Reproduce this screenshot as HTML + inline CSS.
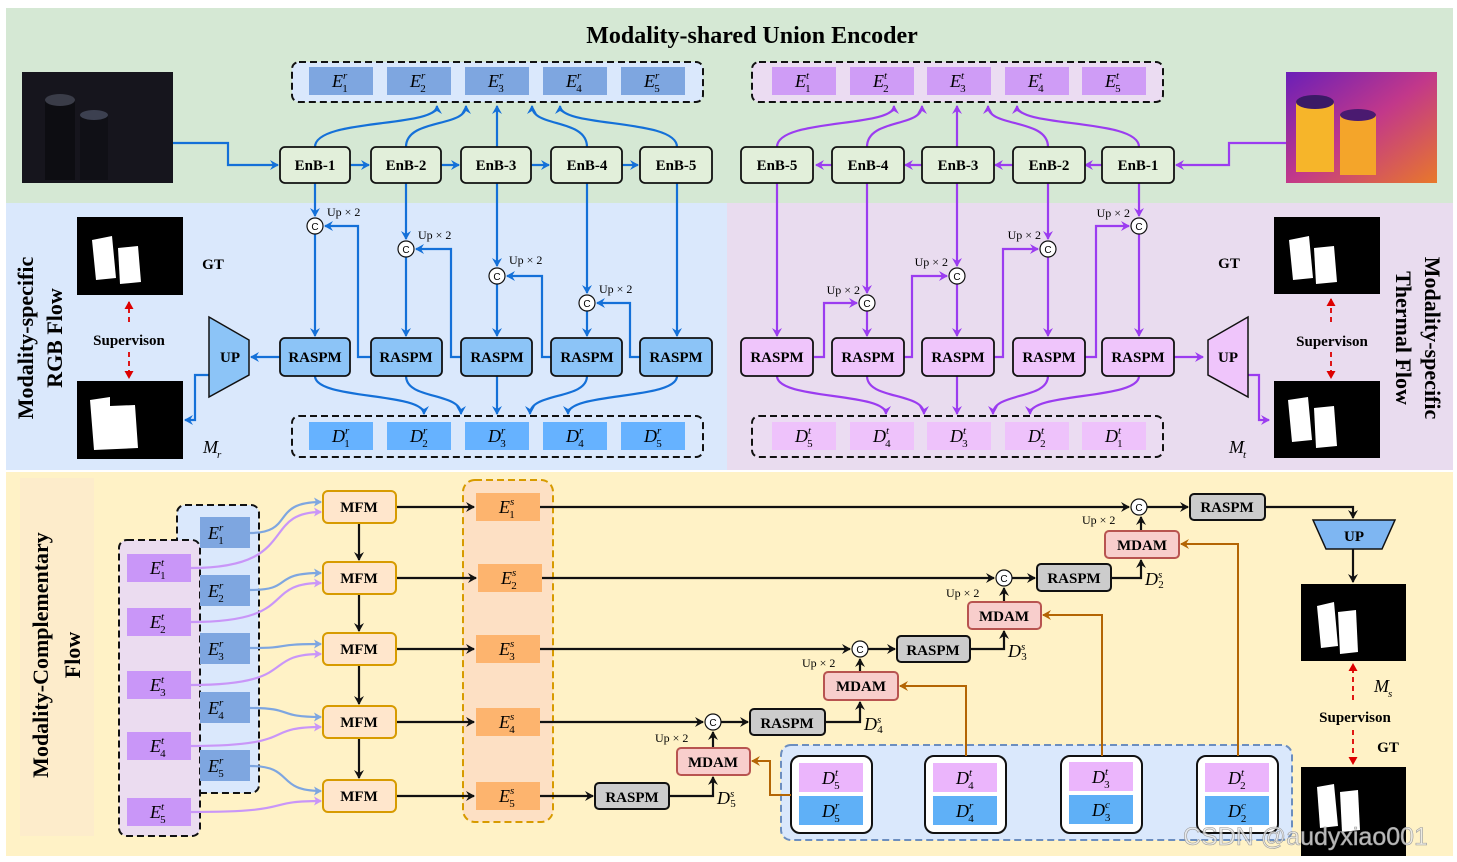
<!DOCTYPE html>
<html><head><meta charset="utf-8"><style>
html,body{margin:0;padding:0;background:#fff;}
svg{display:block;}
.b{font-family:"Liberation Serif",serif;font-weight:bold;font-size:15px;text-anchor:middle;}
.m{font-family:"Liberation Serif",serif;font-style:italic;font-size:18px;}
.s{font-size:11px;}
.u{font-family:"Liberation Serif",serif;font-size:12px;}
.c{font-family:"Liberation Sans",sans-serif;font-size:10px;text-anchor:middle;}
.t{font-family:"Liberation Serif",serif;font-weight:bold;}
.m tspan + tspan{font-style:normal;}
</style></head><body>
<svg width="1457" height="862" viewBox="0 0 1457 862" xmlns="http://www.w3.org/2000/svg">
<defs>
<marker id="ab" markerWidth="10" markerHeight="10" refX="8" refY="5" orient="auto" markerUnits="userSpaceOnUse"><path d="M0,0 L9,5 L0,10 L3,5z" fill="#1470d8"/></marker>
<marker id="ap" markerWidth="10" markerHeight="10" refX="8" refY="5" orient="auto" markerUnits="userSpaceOnUse"><path d="M0,0 L9,5 L0,10 L3,5z" fill="#9b3cf0"/></marker>
<marker id="ak" markerWidth="10" markerHeight="10" refX="8" refY="5" orient="auto" markerUnits="userSpaceOnUse"><path d="M0,0 L9,5 L0,10 L3,5z" fill="#111"/></marker>
<marker id="ao" markerWidth="10" markerHeight="10" refX="8" refY="5" orient="auto" markerUnits="userSpaceOnUse"><path d="M0,0 L9,5 L0,10 L3,5z" fill="#b46504"/></marker>
<marker id="ar" markerWidth="9" markerHeight="9" refX="7" refY="4.5" orient="auto-start-reverse" markerUnits="userSpaceOnUse"><path d="M0,0 L8,4.5 L0,9z" fill="#d00"/></marker>
<marker id="al" markerWidth="9" markerHeight="9" refX="7" refY="4.5" orient="auto" markerUnits="userSpaceOnUse"><path d="M0,0 L8,4.5 L0,9 L2,4.5z" fill="#7ea6e0"/></marker>
<marker id="am" markerWidth="9" markerHeight="9" refX="7" refY="4.5" orient="auto" markerUnits="userSpaceOnUse"><path d="M0,0 L8,4.5 L0,9 L2,4.5z" fill="#c996f8"/></marker>
<linearGradient id="th" x1="0" y1="0" x2="1" y2="1"><stop offset="0" stop-color="#6a1fb8"/><stop offset="0.5" stop-color="#c2388a"/><stop offset="1" stop-color="#e8782a"/></linearGradient>
</defs>

<rect x="0" y="0" width="1457" height="862" fill="#fff"/>
<rect x="6" y="8" width="1447" height="195" fill="#d5e8d4"/>
<rect x="6" y="203" width="721" height="267" fill="#dae8fc"/>
<rect x="727" y="203" width="726" height="267" fill="#e9dcef"/>
<rect x="6" y="472" width="1447" height="384" fill="#fff2c6"/>
<rect x="20" y="478" width="74" height="358" fill="#fdeccb"/>

<text x="752" y="43" class="t" font-size="24" text-anchor="middle">Modality-shared Union Encoder</text>

<rect x="22" y="72" width="151" height="111" fill="#16151d"/>
<rect x="45" y="100" width="30" height="80" fill="#0d0d12"/>
<ellipse cx="60" cy="100" rx="15" ry="6" fill="#3a3c48"/>
<rect x="80" y="115" width="28" height="65" fill="#101016"/>
<ellipse cx="94" cy="115" rx="14" ry="5" fill="#3c4050"/>
<rect x="1286" y="72" width="151" height="111" fill="url(#th)"/>
<rect x="1296" y="102" width="38" height="70" fill="#f6b52a"/>
<ellipse cx="1315" cy="102" rx="19" ry="7" fill="#3a1a66"/>
<rect x="1340" y="115" width="36" height="60" fill="#f4a52a"/>
<ellipse cx="1358" cy="115" rx="18" ry="6" fill="#4a1a70"/>

<rect x="292" y="62" width="411" height="40" rx="7" fill="#dae8fc" stroke="#111" stroke-width="2" stroke-dasharray="7,4"/>
<rect x="752" y="62" width="411" height="40" rx="7" fill="#ebdcf2" stroke="#111" stroke-width="2" stroke-dasharray="7,4"/>
<g fill="#7ea6e0"><rect x="309" y="67" width="64" height="28"/><rect x="387" y="67" width="64" height="28"/><rect x="465" y="67" width="64" height="28"/><rect x="543" y="67" width="64" height="28"/><rect x="621" y="67" width="64" height="28"/></g>
<g fill="#cf9cf6"><rect x="772" y="67" width="64" height="28"/><rect x="850" y="67" width="64" height="28"/><rect x="927" y="67" width="64" height="28"/><rect x="1005" y="67" width="64" height="28"/><rect x="1082" y="67" width="64" height="28"/></g>
<g class="m">
<text x="332" y="87">E<tspan class="s" dy="-8">r</tspan><tspan class="s" dx="-5" dy="13">1</tspan></text>
<text x="410" y="87">E<tspan class="s" dy="-8">r</tspan><tspan class="s" dx="-5" dy="13">2</tspan></text>
<text x="488" y="87">E<tspan class="s" dy="-8">r</tspan><tspan class="s" dx="-5" dy="13">3</tspan></text>
<text x="566" y="87">E<tspan class="s" dy="-8">r</tspan><tspan class="s" dx="-5" dy="13">4</tspan></text>
<text x="644" y="87">E<tspan class="s" dy="-8">r</tspan><tspan class="s" dx="-5" dy="13">5</tspan></text>
<text x="795" y="87">E<tspan class="s" dy="-8">t</tspan><tspan class="s" dx="-4" dy="13">1</tspan></text>
<text x="873" y="87">E<tspan class="s" dy="-8">t</tspan><tspan class="s" dx="-4" dy="13">2</tspan></text>
<text x="950" y="87">E<tspan class="s" dy="-8">t</tspan><tspan class="s" dx="-4" dy="13">3</tspan></text>
<text x="1028" y="87">E<tspan class="s" dy="-8">t</tspan><tspan class="s" dx="-4" dy="13">4</tspan></text>
<text x="1105" y="87">E<tspan class="s" dy="-8">t</tspan><tspan class="s" dx="-4" dy="13">5</tspan></text>
</g>

<rect x="292" y="416" width="411" height="41" rx="7" fill="#dae8fc" stroke="#111" stroke-width="2" stroke-dasharray="7,4"/>
<rect x="752" y="416" width="411" height="41" rx="7" fill="#ebdcf2" stroke="#111" stroke-width="2" stroke-dasharray="7,4"/>
<g fill="#66b2ff"><rect x="309" y="422" width="64" height="28"/><rect x="387" y="422" width="64" height="28"/><rect x="465" y="422" width="64" height="28"/><rect x="543" y="422" width="64" height="28"/><rect x="621" y="422" width="64" height="28"/></g>
<g fill="#eec2fb"><rect x="772" y="422" width="64" height="28"/><rect x="850" y="422" width="64" height="28"/><rect x="927" y="422" width="64" height="28"/><rect x="1005" y="422" width="64" height="28"/><rect x="1082" y="422" width="64" height="28"/></g>
<g class="m">
<text x="332" y="442">D<tspan class="s" dy="-8">r</tspan><tspan class="s" dx="-5" dy="13">1</tspan></text>
<text x="410" y="442">D<tspan class="s" dy="-8">r</tspan><tspan class="s" dx="-5" dy="13">2</tspan></text>
<text x="488" y="442">D<tspan class="s" dy="-8">r</tspan><tspan class="s" dx="-5" dy="13">3</tspan></text>
<text x="566" y="442">D<tspan class="s" dy="-8">r</tspan><tspan class="s" dx="-5" dy="13">4</tspan></text>
<text x="644" y="442">D<tspan class="s" dy="-8">r</tspan><tspan class="s" dx="-5" dy="13">5</tspan></text>
<text x="795" y="442">D<tspan class="s" dy="-8">t</tspan><tspan class="s" dx="-4" dy="13">5</tspan></text>
<text x="873" y="442">D<tspan class="s" dy="-8">t</tspan><tspan class="s" dx="-4" dy="13">4</tspan></text>
<text x="950" y="442">D<tspan class="s" dy="-8">t</tspan><tspan class="s" dx="-4" dy="13">3</tspan></text>
<text x="1028" y="442">D<tspan class="s" dy="-8">t</tspan><tspan class="s" dx="-4" dy="13">2</tspan></text>
<text x="1105" y="442">D<tspan class="s" dy="-8">t</tspan><tspan class="s" dx="-4" dy="13">1</tspan></text>
</g>

<g fill="none" stroke="#1470d8" stroke-width="2.2" marker-end="url(#ab)">
<path d="M173,143 H228 V165 H278"/>
<path d="M350,165 H369"/><path d="M441,165 H459"/><path d="M531,165 H549"/><path d="M622,165 H638"/>
<path d="M315,147 C315,118 437,128 437,106"/><path d="M406,147 C406,118 466,128 466,106"/><path d="M497,147 V106"/><path d="M587,147 C587,118 532,128 532,106"/><path d="M677,147 C677,118 560,128 560,106"/>
<path d="M315,183 V216"/><path d="M315,234 V336"/><path d="M406,183 V239"/><path d="M406,257 V336"/><path d="M497,183 V266"/><path d="M497,284 V336"/><path d="M587,183 V293"/><path d="M587,311 V336"/><path d="M677,183 V336"/>
<path d="M371,357 H358 V226 H325"/><path d="M461,357 H451 V249 H416"/><path d="M551,357 H542 V276 H507"/><path d="M640,357 H630 V303 H597"/>
<path d="M315,376 C315,400 424,392 424,414"/><path d="M406,376 C406,400 461,392 461,414"/><path d="M497,376 V414"/><path d="M587,376 C587,400 530,392 530,414"/><path d="M677,376 C677,400 568,392 568,414"/>
<path d="M280,357 H251"/><path d="M209,375 H195 V420 H185"/>
</g>
<g fill="none" stroke="#9b3cf0" stroke-width="2.2" marker-end="url(#ap)" transform="matrix(-1,0,0,1,1454,0)">
<path d="M168,143 H225 V165 H278"/>
<path d="M350,165 H369"/><path d="M441,165 H459"/><path d="M531,165 H549"/><path d="M622,165 H638"/>
<path d="M315,147 C315,118 437,128 437,106"/><path d="M406,147 C406,118 466,128 466,106"/><path d="M497,147 V106"/><path d="M587,147 C587,118 532,128 532,106"/><path d="M677,147 C677,118 560,128 560,106"/>
<path d="M315,183 V216"/><path d="M315,234 V336"/><path d="M406,183 V239"/><path d="M406,257 V336"/><path d="M497,183 V266"/><path d="M497,284 V336"/><path d="M587,183 V293"/><path d="M587,311 V336"/><path d="M677,183 V336"/>
<path d="M371,357 H358 V226 H325"/><path d="M461,357 H451 V249 H416"/><path d="M551,357 H542 V276 H507"/><path d="M640,357 H630 V303 H597"/>
<path d="M315,376 C315,400 424,392 424,414"/><path d="M406,376 C406,400 461,392 461,414"/><path d="M497,376 V414"/><path d="M587,376 C587,400 530,392 530,414"/><path d="M677,376 C677,400 568,392 568,414"/>
<path d="M280,357 H251"/><path d="M209,375 H195 V420 H185"/>
</g>

<g fill="#e2efda" stroke="#111" stroke-width="1.8">
<rect x="280" y="147" width="70" height="36" rx="5"/><rect x="371" y="147" width="70" height="36" rx="5"/><rect x="461" y="147" width="70" height="36" rx="5"/><rect x="551" y="147" width="71" height="36" rx="5"/><rect x="640" y="147" width="72" height="36" rx="5"/>
<rect x="741" y="147" width="72" height="36" rx="5"/><rect x="832" y="147" width="72" height="36" rx="5"/><rect x="922" y="147" width="72" height="36" rx="5"/><rect x="1013" y="147" width="72" height="36" rx="5"/><rect x="1102" y="147" width="72" height="36" rx="5"/>
</g>
<g class="b" font-size="14">
<text x="315" y="170">EnB-1</text><text x="406" y="170">EnB-2</text><text x="496" y="170">EnB-3</text><text x="587" y="170">EnB-4</text><text x="676" y="170">EnB-5</text>
<text x="777" y="170">EnB-5</text><text x="868" y="170">EnB-4</text><text x="958" y="170">EnB-3</text><text x="1049" y="170">EnB-2</text><text x="1138" y="170">EnB-1</text>
</g>

<g fill="#8cc4f7" stroke="#111" stroke-width="1.8">
<rect x="280" y="338" width="70" height="38" rx="5"/><rect x="371" y="338" width="71" height="38" rx="5"/><rect x="461" y="338" width="71" height="38" rx="5"/><rect x="551" y="338" width="71" height="38" rx="5"/><rect x="640" y="338" width="72" height="38" rx="5"/>
</g>
<g fill="#efc5fb" stroke="#111" stroke-width="1.8">
<rect x="741" y="338" width="72" height="38" rx="5"/><rect x="832" y="338" width="72" height="38" rx="5"/><rect x="922" y="338" width="72" height="38" rx="5"/><rect x="1013" y="338" width="72" height="38" rx="5"/><rect x="1102" y="338" width="72" height="38" rx="5"/>
</g>
<g class="b">
<text x="315" y="362">RASPM</text><text x="406" y="362">RASPM</text><text x="497" y="362">RASPM</text><text x="587" y="362">RASPM</text><text x="676" y="362">RASPM</text>
<text x="777" y="362">RASPM</text><text x="868" y="362">RASPM</text><text x="958" y="362">RASPM</text><text x="1049" y="362">RASPM</text><text x="1138" y="362">RASPM</text>
</g>

<g fill="#fff" stroke="#111" stroke-width="1.2">
<circle cx="315" cy="226" r="8"/><circle cx="406" cy="249" r="8"/><circle cx="497" cy="276" r="8"/><circle cx="587" cy="303" r="8"/>
<circle cx="1139" cy="226" r="8"/><circle cx="1048" cy="249" r="8"/><circle cx="957" cy="276" r="8"/><circle cx="867" cy="303" r="8"/>
</g>
<g class="c">
<text x="315" y="230">C</text><text x="406" y="253">C</text><text x="497" y="280">C</text><text x="587" y="307">C</text>
<text x="1139" y="230">C</text><text x="1048" y="253">C</text><text x="957" y="280">C</text><text x="867" y="307">C</text>
</g>
<g class="u">
<text x="327" y="216">Up × 2</text><text x="418" y="239">Up × 2</text><text x="509" y="264">Up × 2</text><text x="599" y="293">Up × 2</text>
<text x="1130" y="217" text-anchor="end">Up × 2</text><text x="1041" y="239" text-anchor="end">Up × 2</text><text x="948" y="266" text-anchor="end">Up × 2</text><text x="860" y="294" text-anchor="end">Up × 2</text>
</g>

<path d="M209,317 L249,340 L249,375 L209,397z" fill="#8cc4f7" stroke="#111" stroke-width="1.5"/>
<path d="M1248,317 L1208,340 L1208,375 L1248,397z" fill="#efc5fb" stroke="#111" stroke-width="1.5"/>
<text x="230" y="362" class="b">UP</text><text x="1228" y="362" class="b">UP</text>

<rect x="77" y="217" width="106" height="78" fill="#000"/>
<path d="M92,240 L112,236 L116,278 L96,280z" fill="#fff"/><path d="M118,248 L138,246 L141,282 L120,284z" fill="#fff"/>
<rect x="77" y="381" width="106" height="78" fill="#000"/>
<path d="M90,400 L110,397 L110,406 L135,405 L138,448 L94,450z" fill="#fff"/>
<rect x="1274" y="217" width="106" height="77" fill="#000"/>
<path d="M1289,240 L1309,236 L1313,278 L1293,280z" fill="#fff"/><path d="M1314,248 L1334,246 L1337,282 L1316,284z" fill="#fff"/>
<rect x="1274" y="381" width="106" height="77" fill="#000"/>
<path d="M1288,400 L1308,397 L1312,440 L1292,442z" fill="#fff"/><path d="M1314,408 L1334,406 L1337,446 L1316,448z" fill="#fff"/>

<g fill="none" stroke="#d00" stroke-width="1.8" stroke-dasharray="5,4">
<path d="M129,322 V302" marker-end="url(#ar)"/><path d="M129,352 V378" marker-end="url(#ar)"/>
<path d="M1331,322 V299" marker-end="url(#ar)"/><path d="M1331,352 V378" marker-end="url(#ar)"/>
</g>
<text x="213" y="269" class="b" font-size="19">GT</text>
<text x="1229" y="268" class="b" font-size="19">GT</text>
<text x="129" y="345" class="b">Supervison</text>
<text x="1332" y="346" class="b">Supervison</text>
<text x="203" y="453" class="m" font-size="20">M<tspan class="s" dx="-1" dy="5">r</tspan></text>
<text x="1229" y="453" class="m" font-size="20">M<tspan class="s" dx="-1" dy="5">t</tspan></text>

<text transform="translate(33,338) rotate(-90)" class="t" font-size="22" text-anchor="middle">Modality-specific</text>
<text transform="translate(62,338) rotate(-90)" class="t" font-size="22" text-anchor="middle">RGB Flow</text>
<text transform="translate(1425,338) rotate(90)" class="t" font-size="22" text-anchor="middle">Modality-specific</text>
<text transform="translate(1396,338) rotate(90)" class="t" font-size="22" text-anchor="middle">Thermal Flow</text>
<text transform="translate(48,655) rotate(-90)" class="t" font-size="22" text-anchor="middle">Modality-Complementary</text>
<text transform="translate(80,655) rotate(-90)" class="t" font-size="22" text-anchor="middle">Flow</text>

<rect x="177" y="505" width="82" height="288" rx="8" fill="#dae8fc" stroke="#111" stroke-width="2" stroke-dasharray="7,4"/>
<rect x="119" y="540" width="81" height="296" rx="8" fill="#ebdcf0" stroke="#111" stroke-width="2" stroke-dasharray="7,4"/>
<g fill="#7ea6e0"><rect x="200" y="517" width="50" height="31"/><rect x="200" y="575" width="50" height="31"/><rect x="200" y="633" width="50" height="31"/><rect x="200" y="692" width="50" height="31"/><rect x="200" y="750" width="50" height="31"/></g>
<g fill="#c996f8"><rect x="127" y="554" width="64" height="28"/><rect x="127" y="608" width="64" height="28"/><rect x="127" y="671" width="64" height="28"/><rect x="127" y="732" width="64" height="28"/><rect x="127" y="798" width="64" height="28"/></g>
<g class="m">
<text x="208" y="539">E<tspan class="s" dy="-8">r</tspan><tspan class="s" dx="-5" dy="13">1</tspan></text>
<text x="208" y="597">E<tspan class="s" dy="-8">r</tspan><tspan class="s" dx="-5" dy="13">2</tspan></text>
<text x="208" y="655">E<tspan class="s" dy="-8">r</tspan><tspan class="s" dx="-5" dy="13">3</tspan></text>
<text x="208" y="714">E<tspan class="s" dy="-8">r</tspan><tspan class="s" dx="-5" dy="13">4</tspan></text>
<text x="208" y="772">E<tspan class="s" dy="-8">r</tspan><tspan class="s" dx="-5" dy="13">5</tspan></text>
<text x="150" y="574">E<tspan class="s" dy="-8">t</tspan><tspan class="s" dx="-4" dy="13">1</tspan></text>
<text x="150" y="628">E<tspan class="s" dy="-8">t</tspan><tspan class="s" dx="-4" dy="13">2</tspan></text>
<text x="150" y="691">E<tspan class="s" dy="-8">t</tspan><tspan class="s" dx="-4" dy="13">3</tspan></text>
<text x="150" y="752">E<tspan class="s" dy="-8">t</tspan><tspan class="s" dx="-4" dy="13">4</tspan></text>
<text x="150" y="818">E<tspan class="s" dy="-8">t</tspan><tspan class="s" dx="-4" dy="13">5</tspan></text>
</g>
<g fill="none" stroke-width="2.2">
<g stroke="#7ea6e0" marker-end="url(#al)">
<path d="M250,533 C295,533 270,502 321,502"/><path d="M250,590 C295,590 270,573 321,573"/><path d="M250,648 C295,648 270,644 321,644"/><path d="M250,708 C295,708 275,717 321,717"/><path d="M250,766 C295,766 275,791 321,791"/>
</g>
<g stroke="#c996f8" marker-end="url(#am)">
<path d="M191,568 C300,568 260,512 321,512"/><path d="M191,622 C300,622 260,583 321,583"/><path d="M191,685 C300,685 260,654 321,654"/><path d="M191,746 C300,746 260,727 321,727"/><path d="M191,812 C300,812 260,801 321,801"/>
</g>
</g>

<rect x="463" y="480" width="90" height="342" rx="12" fill="#fde0c4" stroke="#d79b00" stroke-width="2" stroke-dasharray="7,4"/>
<g fill="#fdb46e"><rect x="476" y="493" width="64" height="28"/><rect x="478" y="564" width="64" height="28"/><rect x="476" y="635" width="64" height="28"/><rect x="476" y="708" width="64" height="28"/><rect x="476" y="782" width="64" height="28"/></g>
<g class="m">
<text x="499" y="513">E<tspan class="s" dy="-8">s</tspan><tspan class="s" dx="-5" dy="13">1</tspan></text>
<text x="501" y="584">E<tspan class="s" dy="-8">s</tspan><tspan class="s" dx="-5" dy="13">2</tspan></text>
<text x="499" y="655">E<tspan class="s" dy="-8">s</tspan><tspan class="s" dx="-5" dy="13">3</tspan></text>
<text x="499" y="728">E<tspan class="s" dy="-8">s</tspan><tspan class="s" dx="-5" dy="13">4</tspan></text>
<text x="499" y="802">E<tspan class="s" dy="-8">s</tspan><tspan class="s" dx="-5" dy="13">5</tspan></text>
</g>

<rect x="781" y="745" width="511" height="95" rx="10" fill="#dae8fc" stroke="#6c8ebf" stroke-width="2" stroke-dasharray="7,4"/>
<g fill="#fff" stroke="#111" stroke-width="2">
<rect x="791" y="756" width="81" height="77" rx="9"/><rect x="925" y="756" width="81" height="77" rx="9"/><rect x="1061" y="756" width="81" height="77" rx="9"/><rect x="1197" y="756" width="81" height="77" rx="9"/>
</g>
<g fill="#ebb5fc"><rect x="799" y="763" width="64" height="29"/><rect x="933" y="763" width="64" height="29"/><rect x="1069" y="762" width="64" height="29"/><rect x="1205" y="763" width="64" height="29"/></g>
<g fill="#5fb0f7"><rect x="799" y="796" width="64" height="29"/><rect x="933" y="796" width="64" height="29"/><rect x="1069" y="795" width="64" height="29"/><rect x="1205" y="796" width="64" height="29"/></g>
<g class="m">
<text x="822" y="784">D<tspan class="s" dy="-8">t</tspan><tspan class="s" dx="-4" dy="13">5</tspan></text>
<text x="822" y="817">D<tspan class="s" dy="-8">r</tspan><tspan class="s" dx="-5" dy="13">5</tspan></text>
<text x="956" y="784">D<tspan class="s" dy="-8">t</tspan><tspan class="s" dx="-4" dy="13">4</tspan></text>
<text x="956" y="817">D<tspan class="s" dy="-8">r</tspan><tspan class="s" dx="-5" dy="13">4</tspan></text>
<text x="1092" y="783">D<tspan class="s" dy="-8">t</tspan><tspan class="s" dx="-4" dy="13">3</tspan></text>
<text x="1092" y="816">D<tspan class="s" dy="-8">c</tspan><tspan class="s" dx="-5" dy="13">3</tspan></text>
<text x="1228" y="784">D<tspan class="s" dy="-8">t</tspan><tspan class="s" dx="-4" dy="13">2</tspan></text>
<text x="1228" y="817">D<tspan class="s" dy="-8">c</tspan><tspan class="s" dx="-5" dy="13">2</tspan></text>
</g>

<g fill="none" stroke="#b46504" stroke-width="2" marker-end="url(#ao)">
<path d="M791,795 H770 V761 H752"/><path d="M966,756 V686 H900"/><path d="M1102,756 V615 H1043"/><path d="M1238,756 V544 H1181"/>
</g>

<g fill="none" stroke="#111" stroke-width="2.2" marker-end="url(#ak)">
<path d="M396,507 H474"/><path d="M396,578 H476"/><path d="M396,649 H474"/><path d="M396,722 H474"/><path d="M396,796 H474"/>
<path d="M359,523 V560"/><path d="M359,594 V631"/><path d="M359,665 V704"/><path d="M359,738 V778"/>
<path d="M540,507 H1129"/><path d="M542,578 H994"/><path d="M540,649 H850"/><path d="M540,722 H703"/><path d="M540,796 H593"/>
<path d="M1147,507 H1188"/><path d="M1012,578 H1035"/><path d="M868,649 H895"/><path d="M721,722 H748"/>
<path d="M669,796 H713 V777"/><path d="M825,722 H860 V702"/><path d="M970,649 H1004 V631"/><path d="M1111,578 H1141 V560"/>
<path d="M713,748 V732"/><path d="M860,672 V659"/><path d="M1004,602 V588"/><path d="M1141,531 V517"/>
<path d="M1265,507 H1353 V518"/><path d="M1353,549 V582"/>
</g>

<g fill="#ffe6cc" stroke="#d79b00" stroke-width="2">
<rect x="323" y="491" width="73" height="32" rx="5"/><rect x="323" y="562" width="73" height="32" rx="5"/><rect x="323" y="633" width="73" height="32" rx="5"/><rect x="323" y="706" width="73" height="32" rx="5"/><rect x="323" y="780" width="73" height="32" rx="5"/>
</g>
<g class="b"><text x="359" y="512">MFM</text><text x="359" y="583">MFM</text><text x="359" y="654">MFM</text><text x="359" y="727">MFM</text><text x="359" y="801">MFM</text></g>

<g fill="#cccccc" stroke="#111" stroke-width="2">
<rect x="1190" y="494" width="75" height="26" rx="4"/><rect x="1037" y="564" width="74" height="27" rx="4"/><rect x="897" y="636" width="73" height="26" rx="4"/><rect x="750" y="709" width="75" height="26" rx="4"/><rect x="595" y="783" width="74" height="26" rx="4"/>
</g>
<g class="b"><text x="1227" y="512">RASPM</text><text x="1074" y="583">RASPM</text><text x="933" y="655">RASPM</text><text x="787" y="728">RASPM</text><text x="632" y="802">RASPM</text></g>

<g fill="#f8cecc" stroke="#b85450" stroke-width="2">
<rect x="1105" y="531" width="74" height="27" rx="4"/><rect x="968" y="602" width="73" height="27" rx="4"/><rect x="824" y="672" width="74" height="28" rx="4"/><rect x="677" y="748" width="73" height="27" rx="4"/>
</g>
<g class="b"><text x="1142" y="550">MDAM</text><text x="1004" y="621">MDAM</text><text x="861" y="691">MDAM</text><text x="713" y="767">MDAM</text></g>

<g fill="#fff" stroke="#111" stroke-width="1.2">
<circle cx="1139" cy="507" r="8"/><circle cx="1004" cy="578" r="8"/><circle cx="860" cy="649" r="8"/><circle cx="713" cy="722" r="8"/>
</g>
<g class="c"><text x="1139" y="511">C</text><text x="1004" y="582">C</text><text x="860" y="653">C</text><text x="713" y="726">C</text></g>
<g class="u">
<text x="1082" y="524">Up × 2</text><text x="946" y="597">Up × 2</text><text x="802" y="667">Up × 2</text><text x="655" y="742">Up × 2</text>
</g>
<g class="m" font-size="15">
<text x="717" y="804">D<tspan class="s" font-size="9" dy="-7">s</tspan><tspan class="s" font-size="9" dx="-4" dy="10">5</tspan></text>
<text x="864" y="730">D<tspan class="s" font-size="9" dy="-7">s</tspan><tspan class="s" font-size="9" dx="-4" dy="10">4</tspan></text>
<text x="1008" y="657">D<tspan class="s" font-size="9" dy="-7">s</tspan><tspan class="s" font-size="9" dx="-4" dy="10">3</tspan></text>
<text x="1145" y="585">D<tspan class="s" font-size="9" dy="-7">s</tspan><tspan class="s" font-size="9" dx="-4" dy="10">2</tspan></text>
</g>

<path d="M1313,520 L1395,520 L1382,549 L1326,549z" fill="#7eb6f2" stroke="#111" stroke-width="1.5"/>
<text x="1354" y="541" class="b">UP</text>
<rect x="1301" y="584" width="105" height="77" fill="#000"/>
<path d="M1317,606 L1334,602 L1338,646 L1321,648z" fill="#fff"/><path d="M1338,612 L1356,610 L1358,652 L1340,654z" fill="#fff"/>
<rect x="1301" y="767" width="105" height="89" fill="#000"/>
<path d="M1317,787 L1334,784 L1338,826 L1320,828z" fill="#fff"/><path d="M1340,792 L1358,790 L1360,830 L1342,832z" fill="#fff"/>
<g fill="none" stroke="#d00" stroke-width="1.8" stroke-dasharray="5,4">
<path d="M1353,700 V664" marker-end="url(#ar)"/><path d="M1353,730 V764" marker-end="url(#ar)"/>
</g>
<text x="1374" y="692" class="m" font-size="20">M<tspan class="s" dx="-1" dy="5">s</tspan></text>
<text x="1355" y="722" class="b">Supervison</text>
<text x="1388" y="752" class="b" font-size="19">GT</text>

<text x="1183" y="845" font-family="Liberation Sans, sans-serif" font-size="25" fill="#e8e8e8" fill-opacity="0.8" stroke="#9a9a9a" stroke-width="0.6">CSDN @audyxiao001</text>
</svg>
</body></html>
